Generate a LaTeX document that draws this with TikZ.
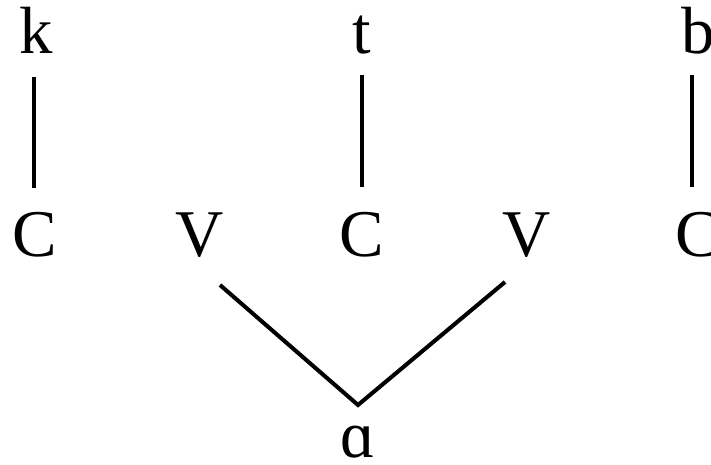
\documentclass[tikz,border=0pt]{standalone}
\usepackage{fontspec}
\setmainfont{Liberation Serif}
\usetikzlibrary{calc}
\begin{document}
\begin{tikzpicture}[x=0.02cm,y=-0.02cm,
  seg/.style={anchor=base,inner sep=0pt,font=\fontsize{38}{38}\selectfont},
  link/.style={line width=2.3pt}]
\useasboundingbox (0,0) rectangle (711,465);
\node[seg] (k) at (36,54) {k};
\node[seg] (t) at (362,54) {t};
\node[seg] (b) at (698,54) {b};
\node[seg] (c1) at (35,257) {C};
\node[seg] (v1) at (200,257) {V};
\node[seg] (c2) at (362,257) {C};
\node[seg] (v2) at (527,257) {V};
\node[seg] (c3) at (698,257) {C};
\node[seg] (a) at (358,458) {ɑ};
\draw[link] ($(k.base)+(-2,23)$) -- ($(c1.base)+(-1,-69)$);
\draw[link] ($(t.base)+(0,21)$) -- ($(c2.base)+(0,-70)$);
\draw[link] ($(b.base)+(-6,21)$) -- ($(c3.base)+(-6,-70)$);
\draw[link] ($(v1.base)+(20,28)$) -- ($(a.base)+(0,-53)$) -- ($(v2.base)+(-22,25)$);
\end{tikzpicture}
\end{document}
